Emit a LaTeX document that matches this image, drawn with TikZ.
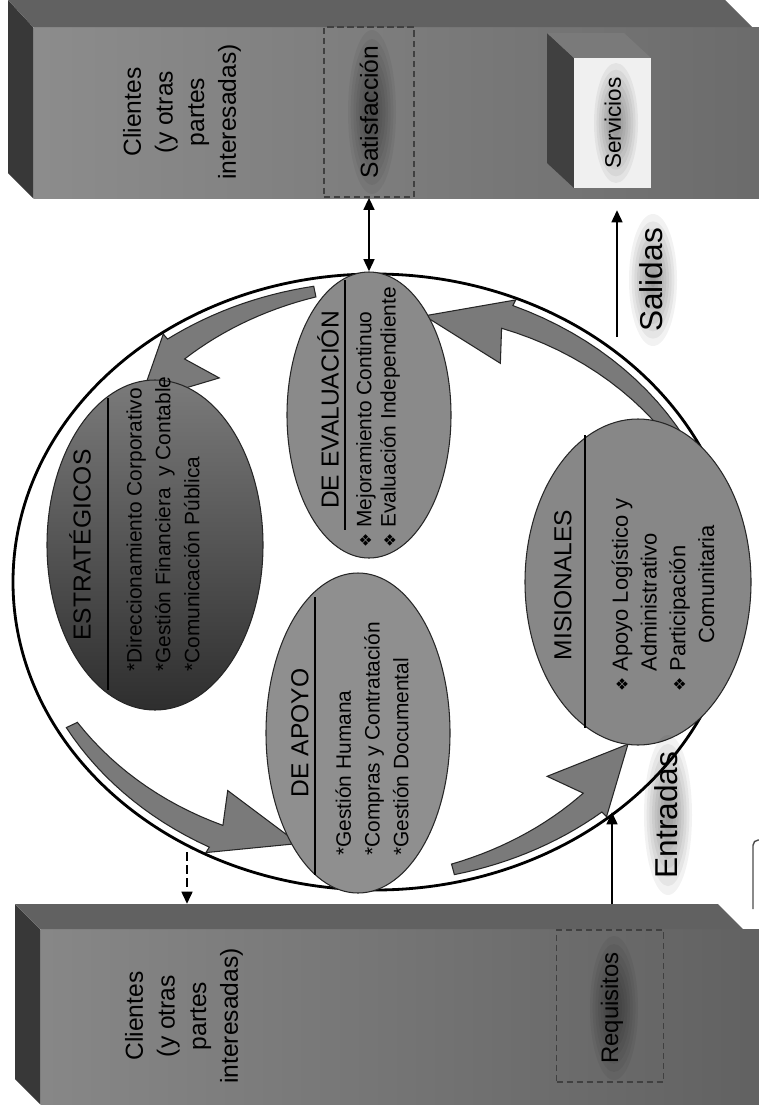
\documentclass[tikz,border=0pt]{standalone}
\usepackage{fontspec}
\setmainfont{Liberation Sans}
\newfontfamily\simbolos{DejaVu Sans}
\usetikzlibrary{shapes.geometric,arrows.meta}

\newcommand{\pix}{0.02cm}
\newcommand{\vinieta}{{\simbolos\fontsize{9}{9}\selectfont ❖}}
% sombra difusa detras de un texto
\newcommand{\resplandor}[4]{%
  \foreach \k in {1,...,9}
    \fill[black, fill opacity=0.05] (#1,#2) ellipse[x radius={#3*\k/9}, y radius={#4*\k/9}];}

\begin{document}
\begin{tikzpicture}[x=0.02cm, y=-0.02cm]
\tikzset{
  proceso/.style={draw=black!85, line width=0.6pt, ellipse, inner sep=0pt},
  titulo/.style={rotate=90, inner sep=0pt, font=\fontsize{14}{16}\selectfont},
  lista/.style={rotate=90, anchor=west, align=left, inner sep=0pt, font=\fontsize{11.9}{16.4}\selectfont},
  rotulo/.style={rotate=90, align=center, inner sep=0pt, font=\fontsize{14}{18}\selectfont},
  caja/.style={draw=black!75, line width=0.7pt, dash pattern=on 3.5pt off 2.2pt, inner sep=0pt},
  curva/.style={fill=black!52, draw=black!85, line width=0.6pt},
  flechita/.style={draw=black, line width=1.6pt},
  divisor/.style={draw=black, line width=1.5pt}
}
\useasboundingbox (0,0) rectangle (759,1112);
\clip (0,0) rectangle (759,1112);
\fill[white] (0,0) rectangle (759,1112);

% bloque de arriba
\node[left color=black!45, middle color=black!15, right color=black!58, inner sep=0pt,
  minimum width=734*\pix, minimum height=171*\pix, anchor=north west] (bloqueA) at (33,27) {};
\fill[black!78] (8,0) -- (33,27) -- (33,198) -- (8,173) -- cycle;
\fill[white] (752,0) -- (759,0) -- (759,27) -- (752,27) -- cycle;
\fill[black!62] (8,0) -- (725,0) -- (752,27) -- (33,27) -- cycle;
% bloque de abajo
\node[left color=black!47, middle color=black!14, right color=black!62, inner sep=0pt,
  minimum width=730*\pix, minimum height=175*\pix, anchor=north west] (bloqueB) at (40,929) {};
\fill[black!78] (15,904) -- (40,929) -- (40,1104) -- (15,1079) -- cycle;
\fill[black!62] (15,904) -- (718,904) -- (743,929) -- (40,929) -- cycle;

\node[rotulo] (clientesA) at (182,112) {Clientes\\(y otras\\partes\\interesadas)};
\node[rotulo] (clientesB) at (184,1016) {Clientes\\(y otras\\partes\\interesadas)};

% satisfaccion
\resplandor{372}{112}{24}{82}
\node[caja, minimum width=90*\pix, minimum height=170*\pix] (satisf) at (369,112) {};
\node[rotate=90, font=\fontsize{14}{16}\selectfont] (tsatisf) at (satisf) {Satisfacción};

% servicios
\fill[black!75] (547,33) -- (574,58) -- (574,188) -- (547,163) -- cycle;
\fill[black!52] (547,33) -- (624,33) -- (651,58) -- (574,58) -- cycle;
\node[fill=black!6, inner sep=0pt, minimum width=77*\pix, minimum height=130*\pix,
  anchor=north west] (servic) at (574,58) {};
\resplandor{616}{123}{22}{60}
\node[rotate=90, font=\fontsize{12.8}{14}\selectfont] (tservic) at (servic) {Servicios};

% requisitos
\resplandor{614}{1008}{24}{72}
\node[caja, minimum width=107*\pix, minimum height=152*\pix] (requis) at (610,1006) {};
\node[rotate=90, font=\fontsize{13.6}{15}\selectfont] (trequis) at (612,1008) {Requisitos};

% flechas curvas y circulo
\begin{scope}[shift={(375,582)}, xscale=362, yscale=-308]
  \foreach \cola/\cuello/\punta in {100/126/138, 209/242/256, 283/310/323, 26/67/81}
    \filldraw[curva] plot[domain=\cola:\cuello, samples=16] (\x:0.975)
      -- (\cuello:0.995) -- (\punta:0.875) -- ({\cuello-3}:0.79) -- (\cuello:0.895)
      -- plot[domain=\cuello:\cola, samples=16] (\x:{0.895+0.045*(\cuello-\x)/(\cuello-\cola)}) -- cycle;
  \draw[line width=1.6pt] (0,0) circle[radius=1];
\end{scope}

% procesos
\node[proceso, top color=black!52, bottom color=black!82, minimum width=216*\pix, minimum height=330*\pix] (estrat) at (155,545) {};
\node[proceso, fill=black!46, minimum width=164*\pix, minimum height=286*\pix] (evalua) at (369,415) {};
\node[proceso, fill=black!44, minimum width=184*\pix, minimum height=320*\pix] (apoyo) at (358,733) {};
\node[proceso, fill=black!47, minimum width=226*\pix, minimum height=326*\pix] (misional) at (638,582) {};

\draw[divisor] (108,398) -- (108,690);
\draw[divisor] (345,280) -- (345,530);
\draw[divisor] (315,597) -- (315,875);
\draw[divisor] (585,435) -- (585,728);

\node[titulo] (testrat) at (80,545) {ESTRATÉGICOS};
\node[titulo] (tevalua) at (328,410) {DE EVALUACIÓN};
\node[titulo] (tapoyo) at (300,733) {DE APOYO};
\node[titulo] (tmisional) at (563,585) {MISIONALES};

\node[lista] (iestrat) at (163,672) {*Direccionamiento Corporativo\\*Gestión Financiera\ \ y Contable\\*Comunicación Pública};
\node[lista, font=\fontsize{11.9}{13.8}\selectfont] (ievalua) at (378,548) {\vinieta\ Mejoramiento Continuo\\\vinieta\ Evaluación Independiente};
\node[lista] (iapoyo) at (372,856) {*Gestión Humana\\*Compras y Contratación\\*Gestión Documental};
\node[lista, font=\fontsize{12.5}{16.4}\selectfont] (imisional) at (663,692) {\vinieta\ Apoyo Logístico y\\\phantom{\vinieta\ }Administrativo\\\vinieta\ Participación\\\hspace{2.2em}Comunitaria};

% flechas rectas
\draw[flechita, {Triangle[length=7pt,width=6pt]}-{Triangle[length=7pt,width=6pt]}] (evalua.north) -- (satisf.south);
\coordinate (c1) at (187,852);
\coordinate (c2) at (187,904);
\draw[flechita, dash pattern=on 5pt off 2.5pt, -{Triangle[length=7pt,width=6pt]}] (c1) -- (c2);
\coordinate (e1) at (612,904);
\coordinate (e2) at (612,812);
\draw[flechita, -{Triangle[length=7pt,width=6pt]}] (e1) -- (e2);
\coordinate (s1) at (617,337);
\coordinate (s2) at (617,210);
\draw[flechita, -{Triangle[length=7pt,width=6pt]}] (s1) -- (s2);

\resplandor{668}{815}{24}{80}
\node[rotate=90, font=\fontsize{18}{20}\selectfont] (entradas) at (666,815) {Entradas};
\resplandor{653}{280}{24}{66}
\node[rotate=90, font=\fontsize{18}{20}\selectfont] (salidas) at (651,280) {Salidas};

\draw[black!70, line width=0.8pt, rounded corners=3pt] (760,840) -- (753,840) -- (753,909);
\end{tikzpicture}
\end{document}
